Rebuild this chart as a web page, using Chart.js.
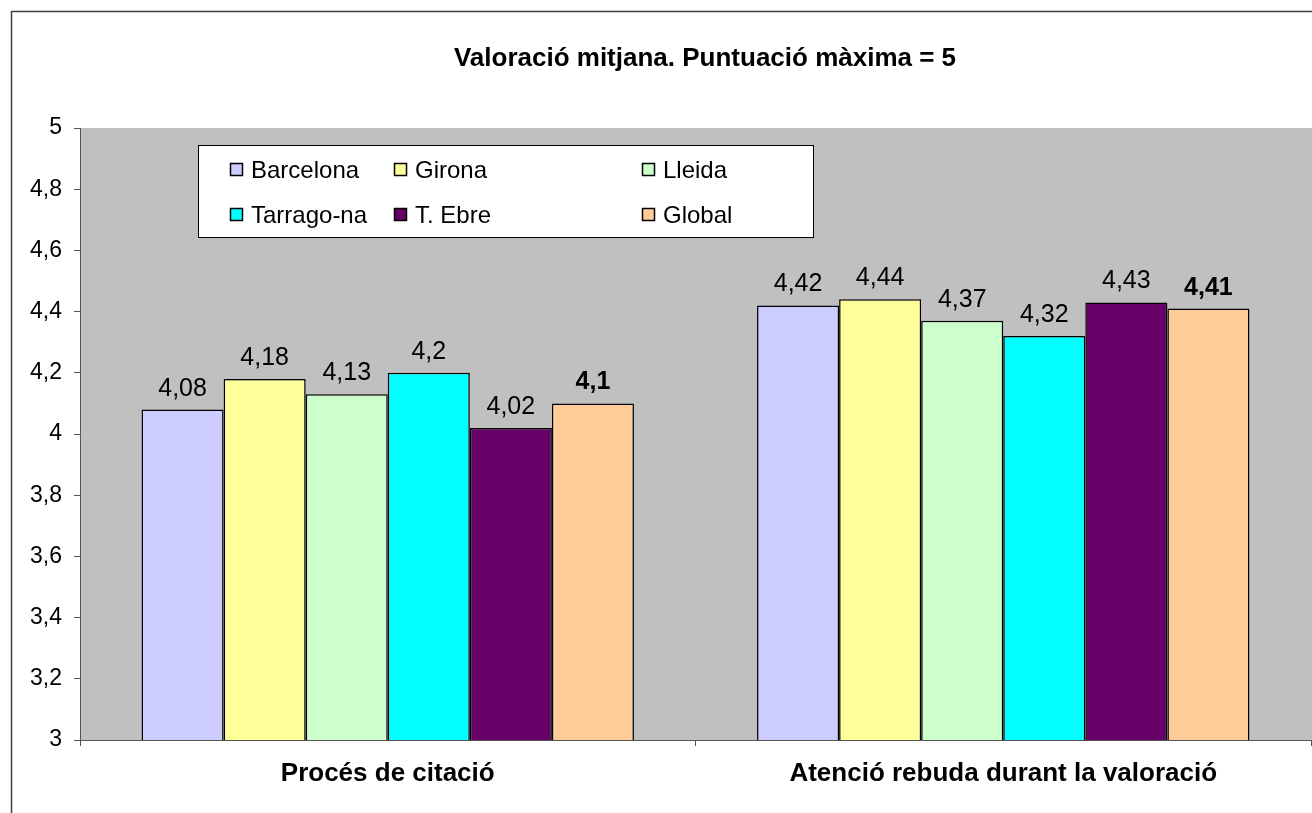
<!DOCTYPE html>
<html>
<head>
<meta charset="utf-8">
<script src="https://cdn.jsdelivr.net/npm/chart.js@4.4.1/dist/chart.umd.min.js"></script>
<style>
  html, body { margin: 0; padding: 0; background: #ffffff; }
  #wrap { width: 1312px; height: 813px; }
</style>
</head>
<body>
<div id="wrap"><canvas id="chart" width="1312" height="813"></canvas></div>
<script>
// ---------- Data ----------
const TITLE = "Valoració mitjana. Puntuació màxima = 5";
const categories = ["Procés de citació", "Atenció rebuda durant la valoració"];
const seriesNames = ["Barcelona", "Girona", "Lleida", "Tarrago-na", "T. Ebre", "Global"];
const barcelona = [4.08, 4.42];
const girona = [4.18, 4.44];
const lleida = [4.13, 4.37];
const tarragona = [4.2, 4.32];
const tEbre = [4.02, 4.43];
const global = [4.1, 4.41];
const yMin = 3;
const yMax = 5;
const yStep = 0.2;

// ---------- Styles ----------
const colors = ["#CCCCFF", "#FFFF99", "#CCFFCC", "#00FFFF", "#660066", "#FFCC99"];
const FONT = "'Liberation Sans', Arial, sans-serif";
const PLOT_BG = "#C0C0C0";
const AXIS_COLOR = "#555555";

const seriesValues = [barcelona, girona, lleida, tarragona, tEbre, global];

function commaNum(v) {
  return String(+v.toFixed(2)).replace(".", ",");
}

// ---------- Plugins ----------
const backgroundPlugin = {
  id: "background",
  beforeDraw(chart) {
    const { ctx, chartArea } = chart;
    ctx.save();
    ctx.fillStyle = "#ffffff";
    ctx.fillRect(0, 0, chart.width, chart.height);
    ctx.fillStyle = PLOT_BG;
    ctx.fillRect(chartArea.left, chartArea.top, chart.width - chartArea.left, chartArea.bottom - chartArea.top);
    // outer frame (cut off at right and bottom)
    ctx.strokeStyle = "#404040";
    ctx.lineWidth = 1.5;
    ctx.beginPath();
    ctx.moveTo(11.5, chart.height);
    ctx.lineTo(11.5, 11.5);
    ctx.lineTo(chart.width, 11.5);
    ctx.stroke();
    // title
    ctx.fillStyle = "#000000";
    ctx.font = `bold 26px ${FONT}`;
    ctx.textAlign = "center";
    ctx.textBaseline = "alphabetic";
    ctx.fillText(TITLE, 705, 66);
    ctx.restore();
  }
};

const valueLabelPlugin = {
  id: "valueLabels",
  afterDatasetsDraw(chart) {
    const { ctx } = chart;
    ctx.save();
    ctx.fillStyle = "#000000";
    ctx.textAlign = "center";
    ctx.textBaseline = "alphabetic";
    chart.data.datasets.forEach((ds, di) => {
      const meta = chart.getDatasetMeta(di);
      ctx.font = di === 5 ? `bold 25px ${FONT}` : `25px ${FONT}`;
      meta.data.forEach((bar, i) => {
        ctx.fillText(commaNum(ds.data[i]), bar.x, bar.y - 14);
      });
    });
    ctx.restore();
  }
};

const boxLegendPlugin = {
  id: "boxLegend",
  afterDraw(chart) {
    const { ctx } = chart;
    const colX = [230, 394, 642];
    const rowY = [170, 215];
    ctx.save();
    ctx.fillStyle = "#ffffff";
    ctx.fillRect(198, 145, 615, 92);
    ctx.strokeStyle = "#000000";
    ctx.lineWidth = 1;
    ctx.strokeRect(198.5, 145.5, 615, 92);
    ctx.font = `24px ${FONT}`;
    ctx.textAlign = "left";
    ctx.textBaseline = "middle";
    chart.data.datasets.forEach((ds, di) => {
      const x = colX[di % 3];
      const y = rowY[Math.floor(di / 3)];
      ctx.fillStyle = ds.backgroundColor;
      ctx.fillRect(x, y - 7, 13, 13);
      ctx.strokeStyle = "#000000";
      ctx.lineWidth = 1.5;
      ctx.strokeRect(x + 0.5, y - 6.5, 12, 12);
      ctx.fillStyle = "#000000";
      ctx.fillText(ds.label, x + 21, y + 1);
    });
    ctx.restore();
  }
};

// ---------- Chart ----------
const datasets = seriesNames.map((name, i) => ({
  label: name,
  data: seriesValues[i],
  backgroundColor: colors[i],
  borderColor: "#000000",
  borderWidth: 1.5,
  borderSkipped: false,
  categoryPercentage: 0.8,
  barPercentage: 1.0
}));

new Chart(document.getElementById("chart"), {
  type: "bar",
  data: { labels: categories, datasets },
  options: {
    responsive: false,
    animation: false,
    devicePixelRatio: 1,
    layout: { padding: { left: 0, right: 1, top: 128, bottom: 0 } },
    plugins: {
      legend: { display: false },
      title: { display: false },
      tooltip: { enabled: false }
    },
    scales: {
      x: {
        grid: {
          offset: true,
          drawOnChartArea: false,
          drawTicks: true,
          tickLength: 6,
          color: AXIS_COLOR
        },
        border: { display: true, color: AXIS_COLOR, width: 1 },
        ticks: {
          color: "#000000",
          font: { family: FONT, size: 26, weight: "bold" },
          padding: 12
        },
        afterFit(scale) { scale.height = 73; }
      },
      y: {
        min: yMin,
        max: yMax,
        ticks: {
          stepSize: yStep,
          color: "#000000",
          font: { family: FONT, size: 23 },
          padding: 12,
          callback: (v) => commaNum(v)
        },
        grid: {
          drawOnChartArea: false,
          drawTicks: true,
          tickLength: 6,
          color: AXIS_COLOR
        },
        border: { display: true, color: AXIS_COLOR, width: 1 },
        afterFit(scale) { scale.width = 80; }
      }
    }
  },
  plugins: [backgroundPlugin, valueLabelPlugin, boxLegendPlugin]
});
</script>
</body>
</html>
